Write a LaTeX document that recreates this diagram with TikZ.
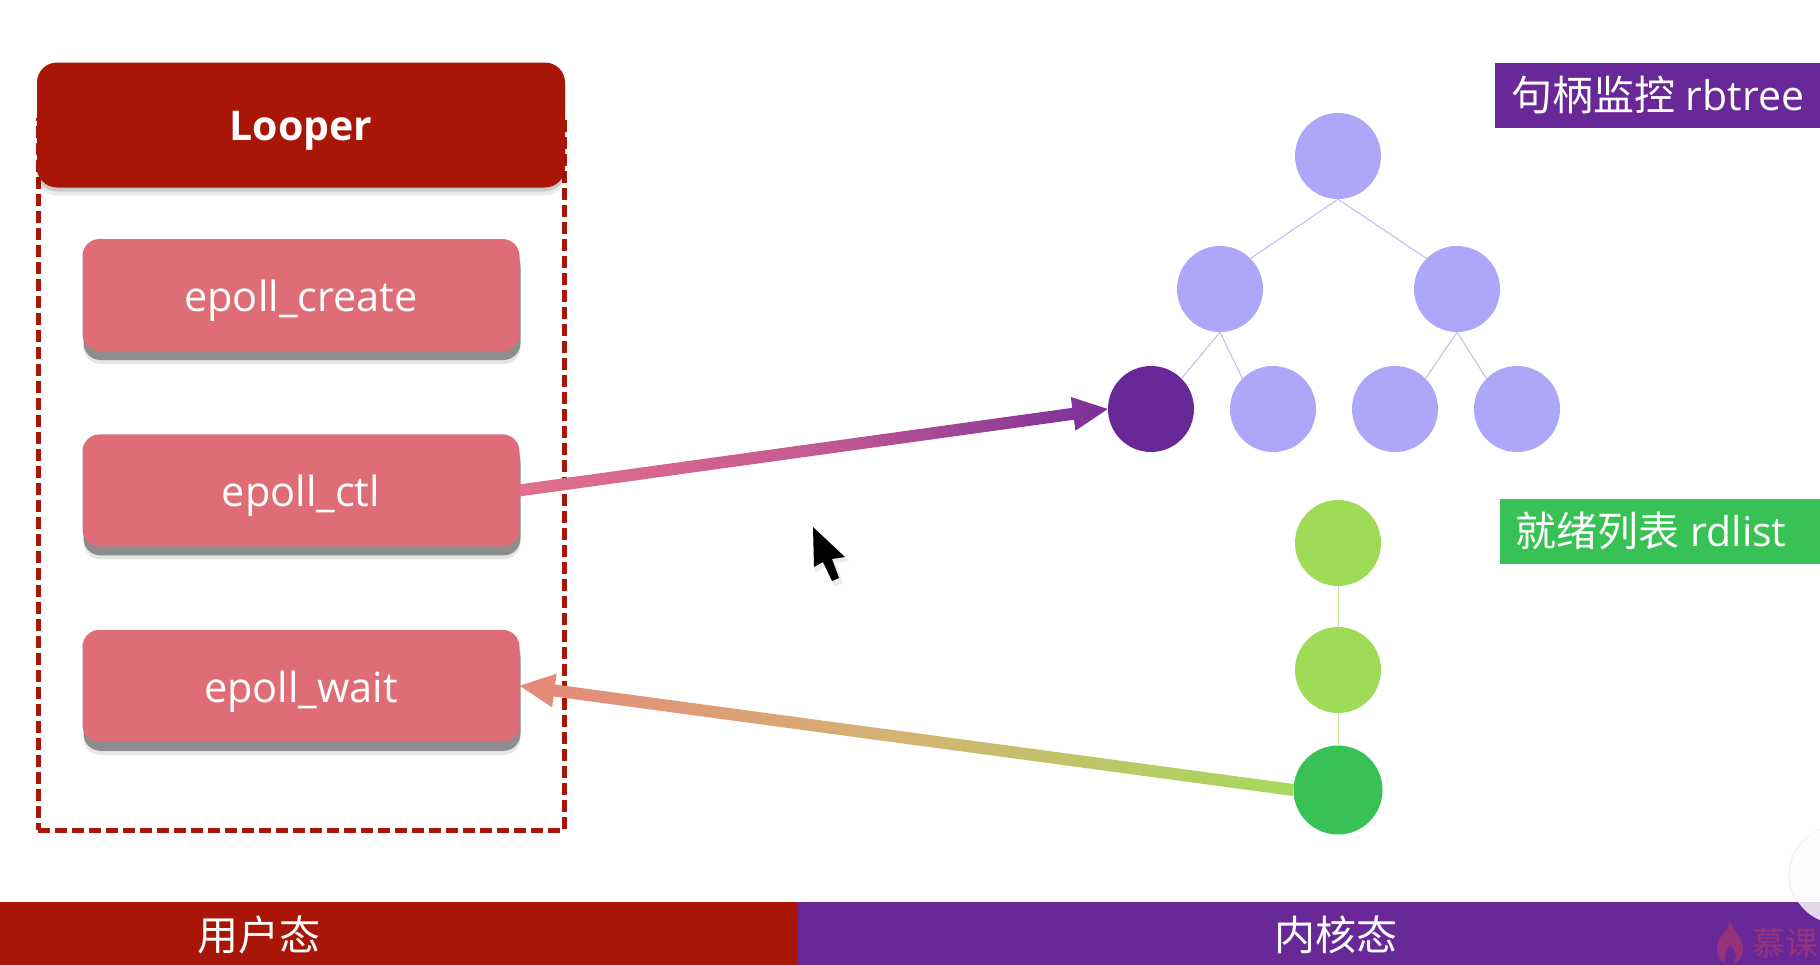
\documentclass[tikz,border=0pt]{standalone}
\usepackage{fontspec}
\setmainfont{Open Sans}
\newfontfamily\cjk{Noto Sans CJK SC}
\usetikzlibrary{calc, positioning, shadows}

\definecolor{looperred}{HTML}{A91608}
\definecolor{boxpink}{HTML}{DF6D78}
\definecolor{kernelpurple}{HTML}{692897}
\definecolor{treelight}{HTML}{ADA6F9}
\definecolor{treeline}{HTML}{C0BBEA}
\definecolor{listlight}{HTML}{9EDB56}
\definecolor{listline}{HTML}{C0E69A}
\definecolor{listdark}{HTML}{38C255}
\definecolor{markred}{HTML}{93337B}
\definecolor{ctlstart}{HTML}{E2708A}
\definecolor{ctlmid}{HTML}{C55A92}
\definecolor{ctlend}{HTML}{7A309A}
\definecolor{waittip}{HTML}{E5887A}
\definecolor{waitmid}{HTML}{D4B472}
\definecolor{waittail}{HTML}{A5DA5C}

\newcommand{\gradarrow}[5]{
  \coordinate (hb) at ($(#2)!35pt!(#1)$);
  \shade[left color=#3, right color=#5, middle color=#4]
    ($(#1)!6pt!90:(#2)$) -- ($(hb)!6pt!90:(#2)$) -- ($(hb)!17pt!90:(#2)$) -- (#2)
    -- ($(hb)!17pt!-90:(#2)$) -- ($(hb)!6pt!-90:(#2)$) -- ($(#1)!6pt!-90:(#2)$) -- cycle;
}

\begin{document}
\begin{tikzpicture}[
  x=1pt, y=1pt,
  node distance=83pt,
  head/.style={rectangle, rounded corners=20pt, fill=looperred, text=white, minimum width=528pt, minimum height=125pt, text height=31pt, text depth=0pt, font=\fontsize{41}{46}\selectfont\bfseries, drop shadow={shadow xshift=0pt, shadow yshift=-8pt, fill=black, opacity=0.08}, drop shadow={shadow xshift=0pt, shadow yshift=-4pt, fill=black, opacity=0.14}},
  call/.style={rectangle, rounded corners=17pt, fill=boxpink, text=white, minimum width=437pt, minimum height=112pt, text height=33pt, text depth=0pt, font=\fontsize{41.5}{46}\selectfont, drop shadow={shadow xshift=1pt, shadow yshift=-13pt, fill=black, opacity=0.10}, drop shadow={shadow xshift=1pt, shadow yshift=-9pt, fill=black, opacity=0.38}},
  frame/.style={rectangle, draw=looperred, line width=5pt, dash pattern=on 12pt off 5pt, minimum width=526pt, minimum height=710pt},
  bar/.style={rectangle, minimum height=63pt},
  bartext/.style={text=white, font=\cjk\fontsize{41}{46}\selectfont},
  tag/.style={rectangle, text=white, anchor=west, minimum height=65pt, font=\fontsize{41}{46}\selectfont},
  dot/.style={circle, minimum size=86pt, inner sep=0pt, fill=#1},
  link/.style={draw=#1, line width=1pt}
]
  \useasboundingbox[fill=white] (0,-964) rectangle (1820,0);

  % user side
  \node[frame] (frame) at (301,-475) {};
  \node[head] (looper) at (301,-125) {Looper};
  \node[call] (create) at (301,-295) {epoll\_create};
  \node[call, below=of create] (ctl) {epoll\_ctl};
  \node[call, below=of ctl] (wait) {epoll\_wait};

  % rbtree
  \node[dot=treelight] (root) at (1338,-156) {};
  \node[dot=treelight] (ta) at (1220,-289) {};
  \node[dot=treelight] (tb) at (1457,-289) {};
  \node[dot=kernelpurple] (la) at (1151,-409) {};
  \node[dot=treelight] (lb) at (1273,-409) {};
  \node[dot=treelight] (lc) at (1395,-409) {};
  \node[dot=treelight] (ld) at (1517,-409) {};

  \draw[link=treeline] (root.south) -- (ta.45);
  \draw[link=treeline] (root.south) -- (tb.135);
  \draw[link=treeline] (ta.south) -- (la.45);
  \draw[link=treeline] (ta.south) -- (lb.135);
  \draw[link=treeline] (tb.south) -- (lc.45);
  \draw[link=treeline] (tb.south) -- (ld.135);

  % rdlist
  \node[dot=listlight] (ga) at (1338,-543) {};
  \node[dot=listlight] (gb) at (1338,-670) {};
  \node[dot=listdark, minimum size=89pt] (gc) at (1338,-790) {};

  \draw[link=listline] (ga) -- (gb);
  \draw[link=listline] (gb) -- (gc);

  % labels
  \node[tag, fill=kernelpurple, minimum width=325pt] (tagtree) at (1495,-95) {{\cjk 句柄监控} rbtree};
  \node[tag, fill=listdark, minimum width=320pt] (taglist) at (1500,-531) {\hspace{-18pt}{\cjk 就绪列表} rdlist};

  % arrows
  \gradarrow{ctl.east}{la.west}{ctlstart}{ctlmid}{ctlend}
  \gradarrow{gc.west}{wait.east}{waittip}{waitmid}{waittail}

  % bottom bars
  \node[bar, fill=looperred, minimum width=797pt] (user) at (398.5,-933) {};
  \node[bar, fill=kernelpurple, minimum width=1023pt] (kernel) at (1308.5,-933) {};
  \node[bartext] (usertext) at (259,-935) {用户态};
  \node[bartext] (kerneltext) at (1336,-935) {内核态};

  % watermark
  \fill[markred] (1729,-918) .. controls (1731,-930) and (1744,-938) .. (1743,-950) .. controls (1742,-958) and (1738,-962) .. (1733,-964) -- (1726,-964) .. controls (1720,-961) and (1716,-956) .. (1717,-946) .. controls (1718,-936) and (1731,-930) .. (1729,-918) -- cycle;
  \fill[kernelpurple] (1730,-945) .. controls (1733,-950) and (1738,-953) .. (1735,-960) -- (1733,-964) -- (1726,-964) .. controls (1722,-958) and (1726,-952) .. (1730,-945) -- cycle;
  \node[anchor=west, inner sep=0pt, text=markred, font=\cjk\fontsize{33}{36}\selectfont] (mark) at (1752,-943) {慕课};

  % round button at the edge
  \node[circle, minimum size=98pt, inner sep=0pt, fill=white, fill opacity=0.82, drop shadow={shadow xshift=-2pt, shadow yshift=0pt, fill=black, opacity=0.05}] (button) at (1839,-875) {};

  % pointer
  \fill[black!8] (816,-531) -- (849,-561) -- (836,-563) -- (843,-583) -- (834,-586) -- (825,-567) -- (815,-573) -- cycle;
  \fill[black] (813,-527) -- (845,-557) -- (832,-559) -- (839,-578) -- (832,-581) -- (823,-562) -- (814,-567) -- cycle;
\end{tikzpicture}
\end{document}
